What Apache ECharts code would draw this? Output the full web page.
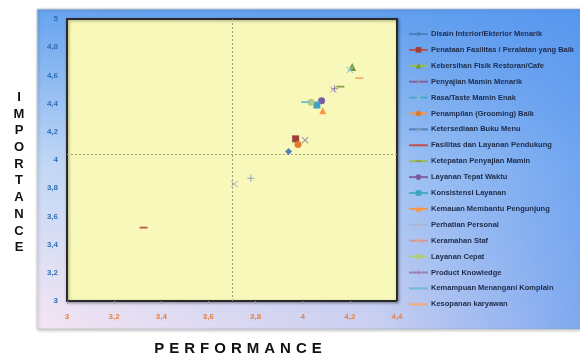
<!DOCTYPE html>
<html>
<head>
<meta charset="utf-8">
<script src="https://cdn.jsdelivr.net/npm/echarts@6/dist/echarts.min.js"></script>
<style>
html,body{margin:0;padding:0;background:#fff;}
#c{width:580px;height:356px;}
</style>
</head>
<body>
<div id="c"></div>
<script>
// ---- data ----
const seriesNames = [
  'Disain Interior/Ekterior Menarik',
  'Penataan Fasilitas / Peralatan yang Baik',
  'Kebersihan Fisik Restoran/Cafe',
  'Penyajian Mamin Menarik',
  'Rasa/Taste Mamin Enak',
  'Penampilan (Grooming) Baik',
  'Ketersediaan Buku Menu',
  'Fasilitas dan Layanan Pendukung',
  'Ketepatan Penyajian Mamin',
  'Layanan Tepat Waktu',
  'Konsistensi Layanan',
  'Kemauan Membantu Pengunjung',
  'Perhatian Personal',
  'Keramahan Staf',
  'Layanan Cepat',
  'Product Knowledge',
  'Kemampuan Menangani Komplain',
  'Kesopanan karyawan'
];
const performance = [3.94, 3.97, 4.21, 4.01, 4.20, 3.98, 3.78, 3.325, 4.16, 4.08, 4.06, 4.085, 3.71, 4.13, 4.035, 4.135, 4.01, 4.24];
const importance  = [4.06, 4.15, 4.66, 4.14, 4.64, 4.11, 3.87, 3.52, 4.52, 4.42, 4.39, 4.35, 3.83, 4.50, 4.41, 4.505, 4.41, 4.58];
const meanPerformance = 3.70;
const meanImportance = 4.04;
const xTickLabels = ['3','3,2','3,4','3,6','3,8','4','4,2','4,4'];
const yTickLabels = ['3','3,2','3,4','3,6','3,8','4','4,2','4,4','4,6','4,8','5'];

// ---- styles ----
const P_X = 'path://M0,1L1,0L5,4L9,0L10,1L6,5L10,9L9,10L5,6L1,10L0,9L4,5Z';
const P_PLUS = 'path://M4.3,0H5.7V4.3H10V5.7H5.7V10H4.3V5.7H0V4.3H4.3Z';
const P_DASH = 'path://M0,3.9H10V6.1H0Z M0,0H0.01V0.01H0Z M9.99,9.99H10V10H9.99Z';
// l = line (legend) colour, c = marker colour
const styles = [
  {l:'#4F81BD', c:'#4F81BD', s:'diamond', z:7},
  {l:'#C0504D', c:'#A0403D', s:'rect', z:7},
  {l:'#9BBB59', c:'#6E9A3A', s:'triangle', z:8},
  {l:'#8064A2', c:'#9a94a8', s:P_X, z:7},
  {l:'#4BACC6', c:'#8CC8D8', s:P_X, z:7},
  {l:'#F79646', c:'#E07B2E', s:'circle', z:7},
  {l:'#4F81BD', c:'#8FA0B8', s:P_PLUS, z:7},
  {l:'#C0504D', c:'#C0504D', s:P_DASH, z:8},
  {l:'#9BBB59', c:'#7FA040', s:P_DASH, z:8},
  {l:'#8064A2', c:'#7A5AA0', s:'circle', z:7},
  {l:'#4BACC6', c:'#3FA3C0', s:'rect', z:7},
  {l:'#F79646', c:'#F79646', s:'triangle', z:7},
  {l:'#A5B6D8', c:'#B8BCC8', s:P_X, z:7},
  {l:'#D99694', c:'#D6B8A0', s:P_X, z:7},
  {l:'#B4CC7F', c:'#B4CC7F', s:'circle', z:7},
  {l:'#9983B5', c:'#9983B5', s:P_PLUS, z:7},
  {l:'#6FBDD1', c:'#6FBDD1', s:P_DASH, z:8},
  {l:'#F9AB6B', c:'#F9AB6B', s:P_DASH, z:8}
];

const fmt = (labels) => (v) => {
  const i = Math.round((v - 3) / 0.2);
  return labels[i] !== undefined ? labels[i] : '';
};

const series = seriesNames.map((n, i) => {
  const st = styles[i];
  const o = {
    name: n,
    type: 'line',
    data: [[performance[i], importance[i]]],
    symbol: st.s,
    symbolSize: st.z,
    showSymbol: true,
    itemStyle: {color: st.c},
    lineStyle: {color: st.l, width: 1.5},
    z: 5,
    emphasis: {disabled: true}
  };
  if (i === 0) {
    o.markLine = {
      silent: true,
      symbol: 'none',
      label: {show: false},
      lineStyle: {color: '#a0a080', type: [2, 2], width: 1},
      data: [{xAxis: meanPerformance}, {yAxis: meanImportance}]
    };
  }
  return o;
});

const chart = echarts.init(document.getElementById('c'), null, {renderer: 'canvas'});
chart.setOption({
  animation: false,
  backgroundColor: '#ffffff',
  graphic: [
    {
      type: 'rect', z: -10, silent: true,
      shape: {x: 37, y: 9, width: 560, height: 320},
      style: {
        fill: new echarts.graphic.LinearGradient(0, 0, 0, 1, [
          {offset: 0, color: '#66a3ef'},
          {offset: 0.5, color: '#c4d9f5'},
          {offset: 1, color: '#f5e5f3'}
        ]),
        stroke: '#d0d0d0', lineWidth: 1,
        shadowBlur: 3, shadowColor: 'rgba(0,0,0,0.25)', shadowOffsetX: 1, shadowOffsetY: 1
      }
    },
    {
      type: 'rect', z: -9, silent: true,
      shape: {x: 37, y: 9, width: 560, height: 320},
      style: {
        fill: new echarts.graphic.LinearGradient(0, 0, 1, 0, [
          {offset: 0, color: 'rgba(80,145,238,0)'},
          {offset: 0.6, color: 'rgba(80,145,238,0.25)'},
          {offset: 1, color: 'rgba(80,145,238,0.75)'}
        ])
      }
    },
    {
      type: 'text', silent: true,
      x: 238, y: 341,
      style: {text: 'P\u2004E\u2004R\u2004F\u2004O\u2004R\u2004M\u2004A\u2004N\u2004C\u2004E', font: 'bold 15px "Liberation Sans", Arial', fill: '#111', align: 'center'}
    },
    {
      type: 'text', silent: true,
      x: 19, y: 89,
      style: {
        text: 'I\nM\nP\nO\nR\nT\nA\nN\nC\nE',
        font: 'bold 13px "Liberation Sans", Arial', fill: '#111',
        lineHeight: 16.7, align: 'center'
      }
    }
  ],
  grid: {
    left: 67, right: 183, top: 19, bottom: 55,
    show: true,
    backgroundColor: '#F7F8B9',
    borderColor: '#2a2a2a',
    borderWidth: 2,
    shadowBlur: 3, shadowColor: 'rgba(0,0,0,0.35)', shadowOffsetX: 1, shadowOffsetY: 1
  },
  xAxis: {
    type: 'value', min: 3, max: 4.4, interval: 0.2,
    splitLine: {show: false},
    axisLine: {show: true, lineStyle: {color: '#2a2a2a', width: 2}},
    axisTick: {show: true, length: 3, lineStyle: {color: '#999'}},
    axisLabel: {
      formatter: fmt(xTickLabels), color: '#E8803A', fontSize: 8, fontWeight: 'bold',
      fontFamily: '"Liberation Sans", Arial', margin: 12
    }
  },
  yAxis: {
    type: 'value', min: 3, max: 5, interval: 0.2,
    splitLine: {show: false},
    axisLine: {show: true, lineStyle: {color: '#2a2a2a', width: 2}},
    axisTick: {show: false},
    axisLabel: {
      formatter: fmt(yTickLabels), color: '#2F6DB5', fontSize: 8, fontWeight: 'bold',
      fontFamily: '"Liberation Sans", Arial', margin: 9
    }
  },
  legend: {
    orient: 'vertical',
    left: 403, top: 25,
    itemWidth: 19, itemHeight: 7,
    itemGap: 7.9,
    selectedMode: false,
    textStyle: {
      fontSize: 7.5, fontWeight: 'bold', color: '#1c2a48',
      fontFamily: '"Liberation Sans", Arial', padding: [0, 0, 0, -2]
    },
    data: seriesNames
  },
  series: series
});
</script>
</body>
</html>
